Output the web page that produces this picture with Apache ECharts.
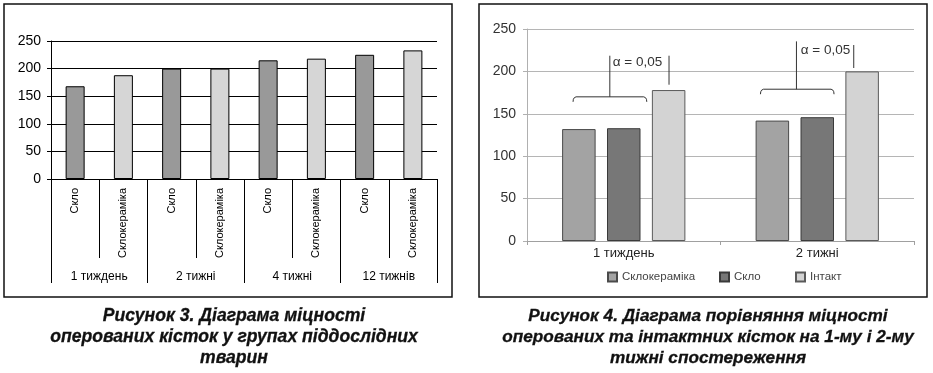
<!DOCTYPE html>
<html>
<head>
<meta charset="utf-8">
<script src="https://cdn.jsdelivr.net/npm/echarts@6/dist/echarts.min.js"></script>
<style>
html,body{margin:0;padding:0;background:#fff;}
#c{width:933px;height:373px;}
</style>
</head>
<body>
<div id="c"></div>
<script>
// ---- Figure 3 data ----
var groups3 = ['1 тиждень', '2 тижні', '4 тижні', '12 тижнів'];
var subLabels3 = ['Скло', 'Склокераміка'];
var sklo3 = [168, 200, 215, 225];
var sklokeramika3 = [188, 200, 218, 233];
var yTicks = [0, 50, 100, 150, 200, 250];

// ---- Figure 4 data ----
var cats4 = ['1 тиждень', '2 тижні'];
var series4Names = ['Склокераміка', 'Скло', 'Інтакт'];
var sklokeramika4 = [132, 142];
var sklo4 = [133, 146];
var intakt4 = [178, 200];
// significance annotations (values on the y scale)
var annCats = [0, 1];
var annBracketValue = [170, 179];
var annTopValue = [218.5, 235.4];
var annRightBottom = [184.3, 204];
var annRightTop = [218.5, 231.1];
var annTextValue = [210.6, 224.4];
var annText = 'α = 0,05';

var captions = [
  'Рисунок 3. Діаграма міцності\nоперованих кісток у групах піддослідних\nтварин',
  'Рисунок 4. Діаграма порівняння міцності\nоперованих та інтактних кісток на 1-му і 2-му\nтижні спостереження'
];

// build 8-category axis for figure 3
var cats3 = [], skloData3 = [], kerData3 = [];
groups3.forEach(function (g, i) {
  cats3.push(subLabels3[0], subLabels3[1]);
  skloData3.push(sklo3[i], '-');
  kerData3.push('-', sklokeramika3[i]);
});

var ARIAL = '"Liberation Sans", Arial, sans-serif';

var chart = echarts.init(document.getElementById('c'), null, {renderer: 'canvas'});

var option = {
  animation: false,
  backgroundColor: '#fff',
  grid: [
    {left: 51, top: 41, width: 386, height: 138},
    {left: 527, top: 29, width: 387, height: 212}
  ],
  xAxis: [
    {
      type: 'category', gridIndex: 0, data: cats3,
      axisLine: {show: true, lineStyle: {color: '#000', width: 1}},
      axisTick: {show: true, interval: 0, length: 79, lineStyle: {color: '#000'}},
      axisLabel: {interval: 0, rotate: 90, margin: 9, color: '#000', fontSize: 11, fontFamily: ARIAL},
      splitLine: {show: false}
    },
    {
      type: 'category', gridIndex: 0, data: groups3, position: 'bottom',
      axisLine: {show: false},
      axisTick: {show: true, interval: 0, length: 104, lineStyle: {color: '#000'}},
      axisLabel: {interval: 0, margin: 92, color: '#000', fontSize: 12, fontFamily: ARIAL},
      splitLine: {show: false}
    },
    {
      type: 'category', gridIndex: 1, data: cats4,
      axisLine: {show: true, lineStyle: {color: '#a0a0a0', width: 1}},
      axisTick: {show: true, interval: 0, length: 4, lineStyle: {color: '#a0a0a0'}},
      axisLabel: {interval: 0, margin: 6, color: '#222', fontSize: 13, fontFamily: ARIAL},
      splitLine: {show: false}
    }
  ],
  yAxis: [
    {
      type: 'value', gridIndex: 0, min: 0, max: 250, interval: 50,
      axisLine: {show: true, lineStyle: {color: '#000', width: 1}},
      axisTick: {show: true, length: 4, lineStyle: {color: '#000'}},
      axisLabel: {margin: 10, color: '#000', fontSize: 14, fontFamily: ARIAL},
      splitLine: {show: true, lineStyle: {color: '#000', width: 1}}
    },
    {
      type: 'value', gridIndex: 1, min: 0, max: 250, interval: 50,
      axisLine: {show: true, lineStyle: {color: '#b0b0b0', width: 1}},
      axisTick: {show: true, length: 4, lineStyle: {color: '#b0b0b0'}},
      axisLabel: {margin: 11, color: '#333', fontSize: 14, fontFamily: ARIAL},
      splitLine: {show: true, lineStyle: {color: '#b5b5b5', width: 1}}
    }
  ],
  legend: series4Names.map(function (n, i) {
    return {
      data: [n], left: [607, 719, 795][i], top: 271, padding: 0,
      icon: 'rect', itemWidth: 9, itemHeight: 9,
      textStyle: {color: '#444', fontSize: 11.5, fontFamily: ARIAL},
      selectedMode: false
    };
  }),
  series: [
    {
      name: 'рис3-' + subLabels3[0], type: 'bar', xAxisIndex: 0, yAxisIndex: 0,
      data: skloData3, barWidth: 19, barGap: '-100%',
      itemStyle: {color: '#999999', borderColor: '#000', borderWidth: 1}
    },
    {
      name: 'рис3-' + subLabels3[1], type: 'bar', xAxisIndex: 0, yAxisIndex: 0,
      data: kerData3, barWidth: 19, barGap: '-100%',
      itemStyle: {color: '#d6d6d6', borderColor: '#000', borderWidth: 1}
    },
    {
      name: series4Names[0], type: 'bar', xAxisIndex: 2, yAxisIndex: 1,
      data: sklokeramika4, barWidth: 33.5, barGap: '34%',
      itemStyle: {color: '#a3a3a3', borderColor: '#4a4a4a', borderWidth: 1}
    },
    {
      name: series4Names[1], type: 'bar', xAxisIndex: 2, yAxisIndex: 1,
      data: sklo4, barWidth: 33.5, barGap: '34%',
      itemStyle: {color: '#777777', borderColor: '#3a3a3a', borderWidth: 1}
    },
    {
      name: series4Names[2], type: 'bar', xAxisIndex: 2, yAxisIndex: 1,
      data: intakt4, barWidth: 33.5, barGap: '34%',
      itemStyle: {color: '#d3d3d3', borderColor: '#5a5a5a', borderWidth: 1}
    }
  ]
};
chart.setOption(option);

// ---- annotations & frame (positions derived from axes) ----
function px(cat, val) {
  return chart.convertToPixel({xAxisIndex: 2, yAxisIndex: 1}, [cat, val]);
}
var catW = px(1, 0)[0] - px(0, 0)[0];
// offsets as fractions of category width (layout, not data)
var offs = [
  {from: -0.262, to: 0.119, center: -0.072, text: -0.057, right: 0.234},
  {from: -0.2935, to: 0.0868, center: -0.1075, text: -0.085, right: 0.1886}
];
var els = [];
annCats.forEach(function (c, i) {
  var o = offs[i];
  var cx = px(c, 0)[0];
  var yb = px(c, annBracketValue[i])[1];
  var x1 = cx + o.from * catW, x2 = cx + o.to * catW, xc = cx + o.center * catW;
  els.push({
    type: 'polyline',
    shape: {points: [
      [x1, yb + 5], [x1 + 0.3, yb + 2.5], [x1 + 1.2, yb + 0.9], [x1 + 3, yb],
      [x2 - 3, yb], [x2 - 1.2, yb + 0.9], [x2 - 0.3, yb + 2.5], [x2, yb + 5]
    ]},
    style: {stroke: '#333', lineWidth: 1, fill: null}
  });
  els.push({
    type: 'line',
    shape: {x1: xc, y1: yb, x2: xc, y2: px(c, annTopValue[i])[1]},
    style: {stroke: '#333', lineWidth: 1}
  });
  var xr = cx + o.right * catW;
  els.push({
    type: 'line',
    shape: {x1: xr, y1: px(c, annRightBottom[i])[1], x2: xr, y2: px(c, annRightTop[i])[1]},
    style: {stroke: '#333', lineWidth: 1}
  });
  els.push({
    type: 'text',
    style: {text: annText, x: cx + o.text * catW, y: px(c, annTextValue[i])[1],
      verticalAlign: 'middle', align: 'left', fill: '#333',
      font: '13.5px "Liberation Sans", Arial, sans-serif'}
  });
});
// frames
els.push({type: 'rect', shape: {x: 4, y: 4, width: 448, height: 293},
  style: {stroke: '#111', lineWidth: 1.5, fill: null}});
els.push({type: 'rect', shape: {x: 479, y: 4, width: 448, height: 293},
  style: {stroke: '#111', lineWidth: 1.5, fill: null}});
// captions
[[234, 17.6], [708, 17.2]].forEach(function (c, i) {
  els.push({
    type: 'text',
    style: {text: captions[i], x: c[0], y: 306, align: 'center', verticalAlign: 'top',
      fill: '#111', lineHeight: 21, stroke: '#111', lineWidth: 0.3,
      font: 'italic bold ' + c[1] + 'px "Liberation Sans", Arial, sans-serif'}
  });
});
chart.setOption({graphic: {elements: els}});
</script>
</body>
</html>
